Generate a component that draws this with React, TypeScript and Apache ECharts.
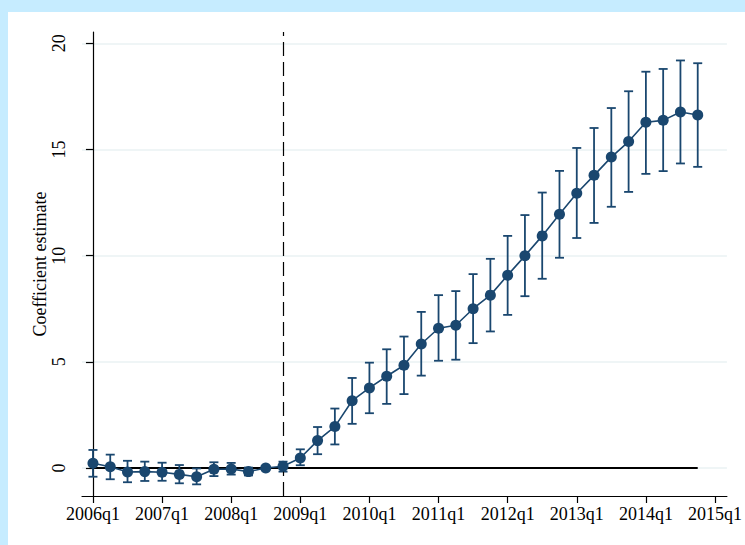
import React, { useEffect, useRef } from "react";
import * as echarts from "echarts";

// Quarter index 0 = 2006q1 ... 35 = 2014q4
const estimate = [0.22, 0.06, -0.19, -0.17, -0.2, -0.3, -0.41, -0.06, -0.05, -0.17, 0, 0.08, 0.47, 1.29, 1.95, 3.17, 3.77, 4.32, 4.84, 5.84, 6.58, 6.72, 7.5, 8.14, 9.08, 9.99, 10.93, 11.95, 12.94, 13.78, 14.64, 15.37, 16.28, 16.37, 16.76, 16.62];
const upper = [0.85, 0.63, 0.34, 0.3, 0.25, 0.14, -0.02, 0.27, 0.24, 0.02, 0, 0.3, 0.88, 1.93, 2.8, 4.24, 4.96, 5.59, 6.19, 7.35, 8.14, 8.33, 9.13, 9.85, 10.93, 11.91, 12.97, 13.99, 15.07, 16.01, 16.95, 17.74, 18.66, 18.79, 19.19, 19.06];
const lower = [-0.41, -0.53, -0.67, -0.61, -0.6, -0.72, -0.77, -0.38, -0.31, -0.35, 0, -0.17, 0.13, 0.65, 1.11, 2.08, 2.58, 3.02, 3.48, 4.35, 5.05, 5.1, 5.88, 6.43, 7.21, 8.09, 8.91, 9.9, 10.83, 11.54, 12.3, 13.0, 13.85, 13.98, 14.34, 14.18];
const xTickValues = [0, 4, 8, 12, 16, 20, 24, 28, 32, 36];
const xTickLabels = ["2006q1", "2007q1", "2008q1", "2009q1", "2010q1", "2011q1", "2012q1", "2013q1", "2014q1", "2015q1"];
const yTickValues = [0, 5, 10, 15, 20];
const treatmentQuarter = 11; // 2008q4

const NAVY = "#1a476f";
const FONT = "Liberation Serif, Times New Roman, serif";

export default function App() {
  const ref = useRef<HTMLDivElement>(null);
  useEffect(() => {
    if (!ref.current) return;
    const chart = echarts.init(ref.current, null, { renderer: "svg" });
    const pointData = estimate.map((v, i) => [i, v]);
    const ciData = estimate.map((_, i) => [i, lower[i], upper[i]]);
    const n = estimate.length;
    chart.setOption({
      animation: false,
      backgroundColor: "transparent",
      textStyle: { fontFamily: FONT },
      grid: { left: 82, right: 15, top: 32, bottom: 49, containLabel: false },
      xAxis: {
        type: "value",
        min: -0.634,
        max: 36.69,
        axisLine: { onZero: false, lineStyle: { color: "#000", width: 1.2 } },
        axisTick: { length: 7, lineStyle: { color: "#000", width: 1.2 }, customValues: xTickValues },
        axisLabel: {
          margin: 9,
          color: "#000",
          fontSize: 18,
          fontFamily: FONT,
          customValues: xTickValues,
          formatter: (v: number) => {
            const idx = xTickValues.indexOf(Math.round(v));
            return idx >= 0 ? xTickLabels[idx] : "";
          },
        },
        splitLine: { show: false },
      },
      yAxis: {
        type: "value",
        min: -1.318,
        max: 20.53,
        name: "Coefficient estimate",
        nameLocation: "middle",
        nameRotate: 90,
        nameGap: 33,
        nameMoveOverlap: false,
        nameTextStyle: { color: "#000", fontSize: 18, fontFamily: FONT },
        axisLine: { show: true, lineStyle: { color: "#000", width: 1.2 } },
        axisTick: { show: true, length: 7, lineStyle: { color: "#000", width: 1.2 }, customValues: yTickValues },
        axisLabel: {
          rotate: 90,
          margin: 14,
          color: "#000",
          fontSize: 18,
          fontFamily: FONT,
          customValues: yTickValues,
        },
        splitLine: { show: true, lineStyle: { color: "#eaf2f3", width: 1.5 } },
      },
      series: [
        {
          type: "line",
          data: [[0, 0], [n - 1, 0]],
          symbol: "none",
          silent: true,
          lineStyle: { color: "#000", width: 1.8 },
          z: 3,
          markLine: {
            silent: true,
            symbol: ["none", "none"],
            label: { show: false },
            lineStyle: { color: "#000", width: 1.2, type: [14, 6] },
            data: [{ xAxis: treatmentQuarter }],
          },
        },
        {
          type: "custom",
          data: ciData,
          encode: { x: 0, y: [1, 2] },
          z: 4,
          renderItem: (params: any, api: any) => {
            const x = api.value(0);
            const lo = api.coord([x, api.value(1)]);
            const hi = api.coord([x, api.value(2)]);
            const half = 4.5;
            const style = { stroke: NAVY, lineWidth: 1.8 };
            return {
              type: "group",
              children: [
                { type: "line", shape: { x1: lo[0], y1: lo[1], x2: hi[0], y2: hi[1] }, style },
                { type: "line", shape: { x1: lo[0] - half, y1: lo[1], x2: lo[0] + half, y2: lo[1] }, style },
                { type: "line", shape: { x1: hi[0] - half, y1: hi[1], x2: hi[0] + half, y2: hi[1] }, style },
              ],
            };
          },
        },
        {
          type: "line",
          data: pointData,
          symbol: "circle",
          symbolSize: 11,
          z: 5,
          lineStyle: { color: NAVY, width: 1.6 },
          itemStyle: { color: NAVY, borderWidth: 0 },
        },
      ],
    });
    return () => chart.dispose();
  }, []);

  return (
    <div style={{ position: "fixed", left: 0, top: 0, width: 745, height: 545, background: "#c6ecff", overflow: "hidden" }}>
      <div style={{ position: "absolute", left: 8, top: 12, right: 0, bottom: 0, background: "#ffffff" }} />
      <div ref={ref} style={{ position: "absolute", left: 0, top: 0, width: 745, height: 545 }} />
    </div>
  );
}
